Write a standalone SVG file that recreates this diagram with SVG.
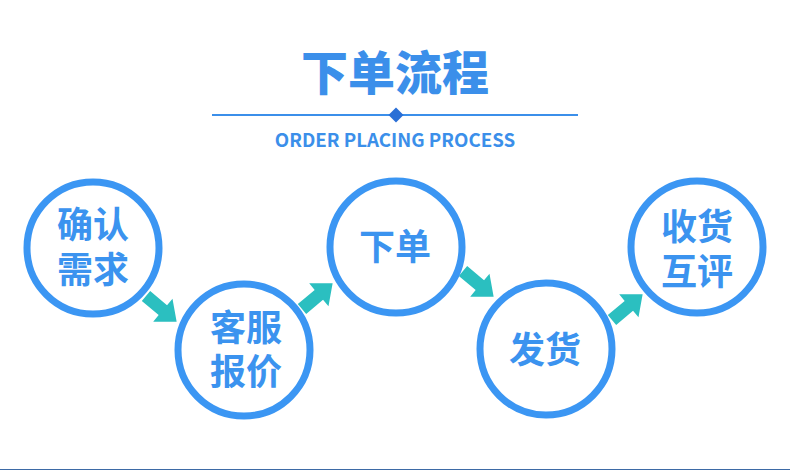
<svg xmlns="http://www.w3.org/2000/svg" width="790" height="470" viewBox="0 0 790 470">
<style>
.ring{fill:#fff;stroke:#3b96f3;stroke-width:7}
.lbl{font-family:"Noto Sans CJK SC","Noto Sans",sans-serif;font-weight:700;font-size:36px;fill:#3b93ef;text-anchor:middle}
.arr{fill:#2bbfc0}
</style>
<defs>
<polygon id="arrow" points="0,-6.5 22,-6.5 22,-15 40,0 22,15 22,6.5 0,6.5"/>
</defs>
<rect width="790" height="470" fill="#fff"/>
<g id="title">
<text x="395" y="90" style="font-family:'Noto Sans CJK SC',sans-serif;font-weight:900;font-size:47px;fill:#3b8fea;text-anchor:middle">下单流程</text>
<line x1="212" y1="115" x2="578" y2="115" stroke="#3b8fea" stroke-width="2"/>
<polygon points="396,107.5 403.5,115 396,122.5 388.5,115" fill="#2a6fd6"/>
<text x="395" y="147" style="font-family:'Noto Sans CJK SC','Open Sans',sans-serif;font-weight:700;font-size:18.7px;fill:#3b8fea;text-anchor:middle">ORDER PLACING PROCESS</text>
</g>
<g id="connectors" class="arr">
<use href="#arrow" transform="translate(146,296) rotate(40)"/>
<use href="#arrow" transform="translate(302,309) rotate(-40)"/>
<use href="#arrow" transform="translate(463,271) rotate(40)"/>
<use href="#arrow" transform="translate(612,320) rotate(-40)"/>
</g>
<g id="n1">
<circle class="ring" cx="93" cy="248" r="66"/>
<text class="lbl"><tspan x="93" y="238">确认</tspan><tspan x="93" y="283">需求</tspan></text>
</g>
<g id="n2">
<circle class="ring" cx="244" cy="350" r="66"/>
<text class="lbl"><tspan x="246" y="341">客服</tspan><tspan x="246" y="385">报价</tspan></text>
</g>
<g id="n3">
<circle class="ring" cx="396" cy="247" r="66"/>
<text class="lbl" x="395" y="260">下单</text>
</g>
<g id="n4">
<circle class="ring" cx="546" cy="349" r="66"/>
<text class="lbl" x="545" y="363">发货</text>
</g>
<g id="n5">
<circle class="ring" cx="697" cy="247" r="66"/>
<text class="lbl"><tspan x="697" y="240">收货</tspan><tspan x="697" y="285">互评</tspan></text>
</g>
<line x1="0" y1="469.5" x2="790" y2="469.5" stroke="#3d6aa6" stroke-width="1"/>
</svg>
